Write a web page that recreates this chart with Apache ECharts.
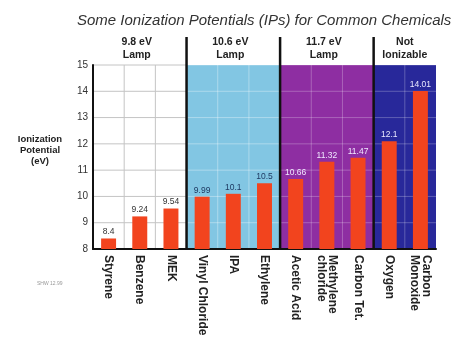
<!DOCTYPE html>
<html>
<head>
<meta charset="utf-8">
<script src="https://cdn.jsdelivr.net/npm/echarts@6/dist/echarts.min.js"></script>
<style>html,body{margin:0;padding:0;background:#fff}#c{width:456px;height:341px}</style>
</head>
<body>
<div id="c"></div>
<script>
// ---- data ----
const categories = ['Styrene', 'Benzene', 'MEK', 'Vinyl Chloride', 'IPA', 'Ethylene',
  'Acetic Acid', 'Methylene\nchloride', 'Carbon Tet.', 'Oxygen', 'Carbon\nMonoxide'];
const values = [8.4, 9.24, 9.54, 9.99, 10.1, 10.5, 10.66, 11.32, 11.47, 12.1, 14.01];
const valueLabels = ['8.4', '9.24', '9.54', '9.99', '10.1', '10.5', '10.66', '11.32', '11.47', '12.1', '14.01'];
const groupNames = ['9.8 eV\nLamp', '10.6 eV\nLamp', '11.7 eV\nLamp', 'Not\nIonizable'];
const groupStart = [0, 3, 6, 9];
const groupEnd = [2, 5, 8, 10];
const yMin = 8, yMax = 15, yStep = 1;
const titleText = 'Some Ionization Potentials (IPs) for Common Chemicals';
const yName = 'Ionization\nPotential\n(eV)';
const noteText = 'SHW 12.99';

// ---- styles ----
const groupFill = ['#ffffff', '#82c6e3', '#8e2ea2', '#28289a'];
const groupGrid = ['#c4c4c4', 'rgba(255,255,255,0.35)', 'rgba(255,255,255,0.25)', 'rgba(255,255,255,0.25)'];
const groupLabelColor = ['#333333', '#1f3a62', '#f0e8ff', '#e8e8ff'];
const barColor = '#f2441e';
const FONT = 'Liberation Sans, Arial, sans-serif';

function groupOf(i) {
  for (let g = 0; g < groupStart.length; g++) if (i >= groupStart[g] && i <= groupEnd[g]) return g;
  return 0;
}

const groupData = groupNames.map((n, g) => [groupStart[g], groupEnd[g], g]);

const chart = echarts.init(document.getElementById('c'), null, { renderer: 'canvas' });
chart.setOption({
  animation: false,
  backgroundColor: '#ffffff',
  title: {
    text: titleText, left: 72, top: 8,
    textStyle: { fontFamily: FONT, fontSize: 15, fontStyle: 'italic', fontWeight: 'normal', color: '#333' }
  },
  grid: { left: 93, right: 20, top: 65, bottom: 92, containLabel: false },
  xAxis: {
    type: 'category', data: categories,
    axisLine: { show: true, lineStyle: { color: '#111', width: 2 } },
    axisTick: { show: false },
    splitLine: { show: false },
    axisLabel: {
      interval: 0, rotate: -90, margin: 6, fontSize: 12, fontWeight: 'bold', lineHeight: 11.5,
      color: '#222', fontFamily: FONT
    }
  },
  yAxis: {
    type: 'value', min: yMin, max: yMax, interval: yStep,
    axisLine: { show: true, lineStyle: { color: '#111', width: 2 } },
    axisTick: { show: false },
    splitLine: { show: false },
    axisLabel: { fontSize: 10, color: '#333', margin: 5, fontFamily: FONT }
  },
  graphic: [
    { type: 'text', x: 40, y: 150, style: { text: yName, fontSize: 9.5, fontWeight: 'bold', lineHeight: 11, fill: '#222', fontFamily: FONT, align: 'center', verticalAlign: 'middle' } },
    { type: 'text', x: 37, y: 281, style: { text: noteText, fontSize: 5, fill: '#999', fontFamily: FONT } }
  ],
  series: [
    {
      type: 'custom', z: -1, clip: false, silent: true,
      data: groupData,
      encode: { x: [0, 1] },
      renderItem: function (params, api) {
        const s = api.value(0), e = api.value(1), g = api.value(2);
        const bw = api.size([1, 0])[0];
        const pTop = api.coord([s, yMax]);
        const pBot = api.coord([e, yMin]);
        const x0 = pTop[0] - bw / 2, x1 = pBot[0] + bw / 2;
        const y0 = pTop[1], y1 = pBot[1];
        const children = [];
        children.push({ type: 'rect', shape: { x: x0, y: y0, width: x1 - x0, height: y1 - y0 }, style: { fill: groupFill[g] } });
        for (let v = yMin + yStep; v <= yMax; v += yStep) {
          const y = api.coord([s, v])[1];
          children.push({ type: 'line', shape: { x1: x0, y1: y, x2: x1, y2: y }, style: { stroke: groupGrid[g], lineWidth: 1 } });
        }
        for (let c = s; c < e; c++) {
          const x = api.coord([c, yMin])[0] + bw / 2;
          children.push({ type: 'line', shape: { x1: x, y1: y0, x2: x, y2: y1 }, style: { stroke: groupGrid[g], lineWidth: 1 } });
        }
        if (g > 0) {
          children.push({ type: 'line', shape: { x1: x0, y1: y0 - 28, x2: x0, y2: y1 }, style: { stroke: '#111', lineWidth: 2.5 } });
        }
        children.push({
          type: 'text', x: (x0 + x1) / 2 - (g < 3 ? 3 : 0), y: y0 - 16,
          style: { text: groupNames[g], fontSize: 10.5, fontWeight: 'bold', lineHeight: 13, fill: '#222', align: 'center', verticalAlign: 'middle', fontFamily: FONT }
        });
        return { type: 'group', children: children };
      }
    },
    {
      type: 'bar', z: 2, barWidth: '48%',
      data: values.map((v, i) => ({
        value: v,
        label: { color: groupLabelColor[groupOf(i)] }
      })),
      itemStyle: { color: barColor },
      label: {
        show: true, position: 'top', distance: 2, fontSize: 8.5,
        fontFamily: FONT,
        formatter: p => valueLabels[p.dataIndex]
      }
    }
  ]
});
</script>
</body>
</html>
